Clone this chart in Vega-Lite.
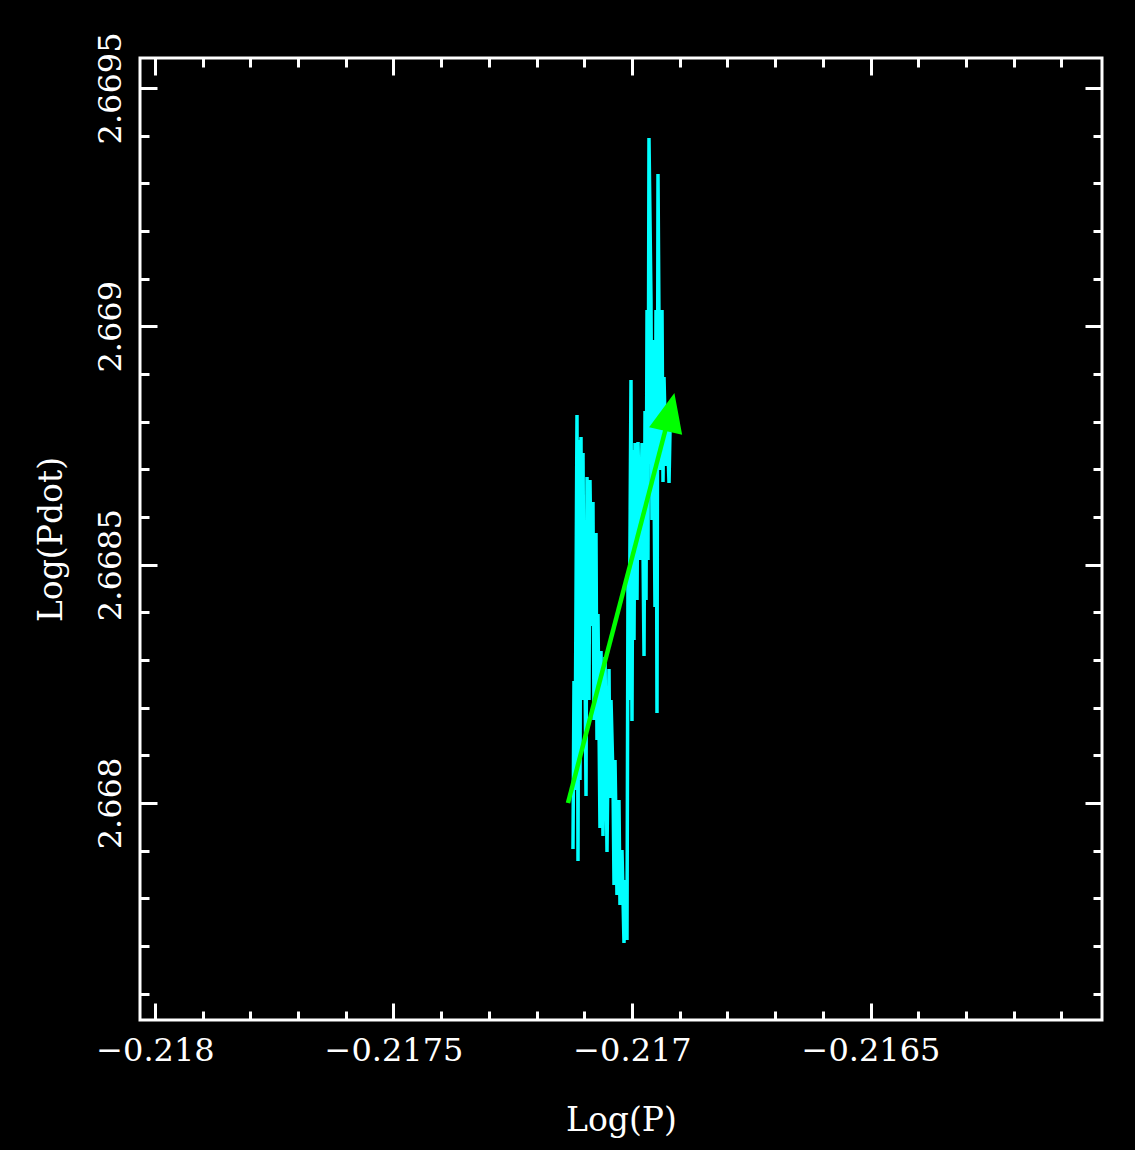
{
  "$schema": "https://vega.github.io/schema/vega-lite/v6.json",
  "background": "#000000",
  "autosize": "none",
  "width": 962,
  "height": 962,
  "padding": {"left": 140, "top": 58, "right": 33, "bottom": 130},
  "datasets": {
    "track": [
      {"i": 1, "p": -0.2171237, "pdot": 2.6679035},
      {"i": 2, "p": -0.2171216, "pdot": 2.6682559},
      {"i": 3, "p": -0.2171195, "pdot": 2.6680273},
      {"i": 4, "p": -0.2171153, "pdot": 2.6688139},
      {"i": 5, "p": -0.2171132, "pdot": 2.6678783},
      {"i": 6, "p": -0.2171111, "pdot": 2.6687615},
      {"i": 7, "p": -0.217109, "pdot": 2.6680483},
      {"i": 8, "p": -0.2171069, "pdot": 2.6687678},
      {"i": 9, "p": -0.2171048, "pdot": 2.6682161},
      {"i": 10, "p": -0.2171027, "pdot": 2.6687342},
      {"i": 11, "p": -0.2171006, "pdot": 2.6683419},
      {"i": 12, "p": -0.2170985, "pdot": 2.6683},
      {"i": 13, "p": -0.2170964, "pdot": 2.6680147},
      {"i": 14, "p": -0.2170943, "pdot": 2.6686839},
      {"i": 15, "p": -0.2170902, "pdot": 2.6682161},
      {"i": 16, "p": -0.2170881, "pdot": 2.6686776},
      {"i": 17, "p": -0.217086, "pdot": 2.6685098},
      {"i": 18, "p": -0.2170839, "pdot": 2.6683713},
      {"i": 19, "p": -0.2170818, "pdot": 2.6686314},
      {"i": 20, "p": -0.2170797, "pdot": 2.6681741},
      {"i": 21, "p": -0.2170755, "pdot": 2.6685664},
      {"i": 22, "p": -0.2170734, "pdot": 2.6681322},
      {"i": 23, "p": -0.2170713, "pdot": 2.6683965},
      {"i": 24, "p": -0.2170671, "pdot": 2.6679476},
      {"i": 25, "p": -0.217065, "pdot": 2.6683189},
      {"i": 26, "p": -0.2170608, "pdot": 2.6679308},
      {"i": 27, "p": -0.2170566, "pdot": 2.6683063},
      {"i": 28, "p": -0.2170524, "pdot": 2.6678972},
      {"i": 29, "p": -0.2170482, "pdot": 2.6682811},
      {"i": 30, "p": -0.2170461, "pdot": 2.6680105},
      {"i": 31, "p": -0.217044, "pdot": 2.6682161},
      {"i": 32, "p": -0.2170398, "pdot": 2.6680504},
      {"i": 33, "p": -0.2170377, "pdot": 2.667828},
      {"i": 34, "p": -0.2170356, "pdot": 2.6680902},
      {"i": 35, "p": -0.2170315, "pdot": 2.667807},
      {"i": 36, "p": -0.2170273, "pdot": 2.6680063},
      {"i": 37, "p": -0.2170252, "pdot": 2.667786},
      {"i": 38, "p": -0.217021, "pdot": 2.6679014},
      {"i": 39, "p": -0.2170168, "pdot": 2.6677063},
      {"i": 40, "p": -0.2170126, "pdot": 2.6678385},
      {"i": 41, "p": -0.2170105, "pdot": 2.6677126},
      {"i": 42, "p": -0.2170084, "pdot": 2.6684678},
      {"i": 43, "p": -0.2170063, "pdot": 2.6682161},
      {"i": 44, "p": -0.2170021, "pdot": 2.6688874},
      {"i": 45, "p": -0.217, "pdot": 2.668172},
      {"i": 46, "p": -0.2169979, "pdot": 2.6687405},
      {"i": 47, "p": -0.2169958, "pdot": 2.6683419},
      {"i": 48, "p": -0.2169937, "pdot": 2.6687552},
      {"i": 49, "p": -0.2169895, "pdot": 2.6684258},
      {"i": 50, "p": -0.2169874, "pdot": 2.6687573},
      {"i": 51, "p": -0.2169832, "pdot": 2.6685098},
      {"i": 52, "p": -0.216979, "pdot": 2.6687552},
      {"i": 53, "p": -0.2169748, "pdot": 2.6683084},
      {"i": 54, "p": -0.2169727, "pdot": 2.6688223},
      {"i": 55, "p": -0.2169706, "pdot": 2.6684258},
      {"i": 56, "p": -0.2169685, "pdot": 2.6690342},
      {"i": 57, "p": -0.2169665, "pdot": 2.6685098},
      {"i": 58, "p": -0.2169644, "pdot": 2.669395},
      {"i": 59, "p": -0.2169602, "pdot": 2.6690552},
      {"i": 60, "p": -0.2169581, "pdot": 2.6685937},
      {"i": 61, "p": -0.216956, "pdot": 2.6689713},
      {"i": 62, "p": -0.2169518, "pdot": 2.6684112},
      {"i": 63, "p": -0.2169497, "pdot": 2.6690342},
      {"i": 64, "p": -0.2169476, "pdot": 2.6681888},
      {"i": 65, "p": -0.2169455, "pdot": 2.6693195},
      {"i": 66, "p": -0.2169413, "pdot": 2.6686986},
      {"i": 67, "p": -0.2169371, "pdot": 2.6690342},
      {"i": 68, "p": -0.216935, "pdot": 2.6686734},
      {"i": 69, "p": -0.2169329, "pdot": 2.6688936},
      {"i": 70, "p": -0.2169287, "pdot": 2.6687069},
      {"i": 71, "p": -0.2169266, "pdot": 2.6688034},
      {"i": 72, "p": -0.2169224, "pdot": 2.6686713},
      {"i": 73, "p": -0.2169203, "pdot": 2.6687825}
    ],
    "arrow": [
      {"i": 1, "p": -0.2171342, "pdot": 2.668},
      {"i": 2, "p": -0.2169245, "pdot": 2.6688034}
    ],
    "head": [
      {"p": -0.2169203, "pdot": 2.6688202}
    ]
  },
  "config": {
    "view": {"stroke": "#ffffff", "strokeWidth": 3},
    "axis": {
      "domain": false,
      "grid": false,
      "tickColor": "#ffffff",
      "tickWidth": 3,
      "labelColor": "#ffffff",
      "titleColor": "#ffffff",
      "labelFont": "DejaVu Serif",
      "titleFont": "DejaVu Serif",
      "labelFontSize": 32,
      "titleFontSize": 33,
      "titleFontWeight": "normal",
      "labelOverlap": false,
      "labelFlush": false,
      "labelBound": false
    }
  },
  "resolve": {"axis": {"x": "independent", "y": "independent"}},
  "layer": [
    {
      "data": {"name": "track"},
      "mark": {"type": "line", "color": "#00ffff", "strokeWidth": 3.5, "strokeJoin": "bevel", "strokeCap": "butt"},
      "encoding": {
        "x": {
          "field": "p", "type": "quantitative",
          "scale": {"domain": [-0.2180314, -0.2160147], "nice": false, "zero": false},
          "axis": {
            "orient": "bottom",
            "title": "Log(P)",
            "values": [-0.218, -0.2179, -0.2178, -0.2177, -0.2176, -0.2175, -0.2174, -0.2173, -0.2172, -0.2171, -0.217, -0.2169, -0.2168, -0.2167, -0.2166, -0.2165, -0.2164, -0.2163, -0.2162, -0.2161],
            "format": ".4~f",
            "labelExpr": "abs(datum.value*2000 - round(datum.value*2000)) < 0.001 ? datum.label : ''",
            "tickSize": {"condition": {"test": "abs(datum.value*2000 - round(datum.value*2000)) < 0.001", "value": -17}, "value": -9},
            "labelPadding": 32,
            "titlePadding": 30
          }
        },
        "y": {
          "field": "pdot", "type": "quantitative",
          "scale": {"domain": [2.6675448, 2.6695628], "nice": false, "zero": false},
          "axis": {
            "orient": "left",
            "title": "Log(Pdot)",
            "values": [2.6676, 2.6677, 2.6678, 2.6679, 2.668, 2.6681, 2.6682, 2.6683, 2.6684, 2.6685, 2.6686, 2.6687, 2.6688, 2.6689, 2.669, 2.6691, 2.6692, 2.6693, 2.6694, 2.6695],
            "format": ".4~f",
            "labelExpr": "abs(datum.value*2000 - round(datum.value*2000)) < 0.001 ? datum.label : ''",
            "tickSize": {"condition": {"test": "abs(datum.value*2000 - round(datum.value*2000)) < 0.001", "value": -17}, "value": -9},
            "labelAngle": 270,
            "labelAlign": "center",
            "labelBaseline": "bottom",
            "labelPadding": 30,
            "titlePadding": 18
          }
        },
        "order": {"field": "i", "type": "quantitative"}
      }
    },
    {
      "data": {"name": "arrow"},
      "mark": {"type": "line", "color": "#00ff00", "strokeWidth": 4.5, "strokeCap": "butt"},
      "encoding": {
        "x": {
          "field": "p", "type": "quantitative",
          "scale": {"domain": [-0.2180314, -0.2160147], "nice": false, "zero": false},
          "axis": {
            "orient": "top",
            "title": null,
            "labels": false,
            "values": [-0.218, -0.2179, -0.2178, -0.2177, -0.2176, -0.2175, -0.2174, -0.2173, -0.2172, -0.2171, -0.217, -0.2169, -0.2168, -0.2167, -0.2166, -0.2165, -0.2164, -0.2163, -0.2162, -0.2161],
            "tickSize": {"condition": {"test": "abs(datum.value*2000 - round(datum.value*2000)) < 0.001", "value": -17}, "value": -9}
          }
        },
        "y": {
          "field": "pdot", "type": "quantitative",
          "scale": {"domain": [2.6675448, 2.6695628], "nice": false, "zero": false},
          "axis": {
            "orient": "right",
            "title": null,
            "labels": false,
            "values": [2.6676, 2.6677, 2.6678, 2.6679, 2.668, 2.6681, 2.6682, 2.6683, 2.6684, 2.6685, 2.6686, 2.6687, 2.6688, 2.6689, 2.669, 2.6691, 2.6692, 2.6693, 2.6694, 2.6695],
            "tickSize": {"condition": {"test": "abs(datum.value*2000 - round(datum.value*2000)) < 0.001", "value": -17}, "value": -9}
          }
        },
        "order": {"field": "i", "type": "quantitative"}
      }
    },
    {
      "data": {"name": "head"},
      "mark": {"type": "point", "shape": "M0,-1L0.87,1L-0.87,1Z", "filled": true, "color": "#00ff00", "opacity": 1, "size": 1521, "angle": 13, "strokeWidth": 0},
      "encoding": {
        "x": {"field": "p", "type": "quantitative", "scale": {"domain": [-0.2180314, -0.2160147], "nice": false, "zero": false}, "axis": null},
        "y": {"field": "pdot", "type": "quantitative", "scale": {"domain": [2.6675448, 2.6695628], "nice": false, "zero": false}, "axis": null}
      }
    }
  ]
}
